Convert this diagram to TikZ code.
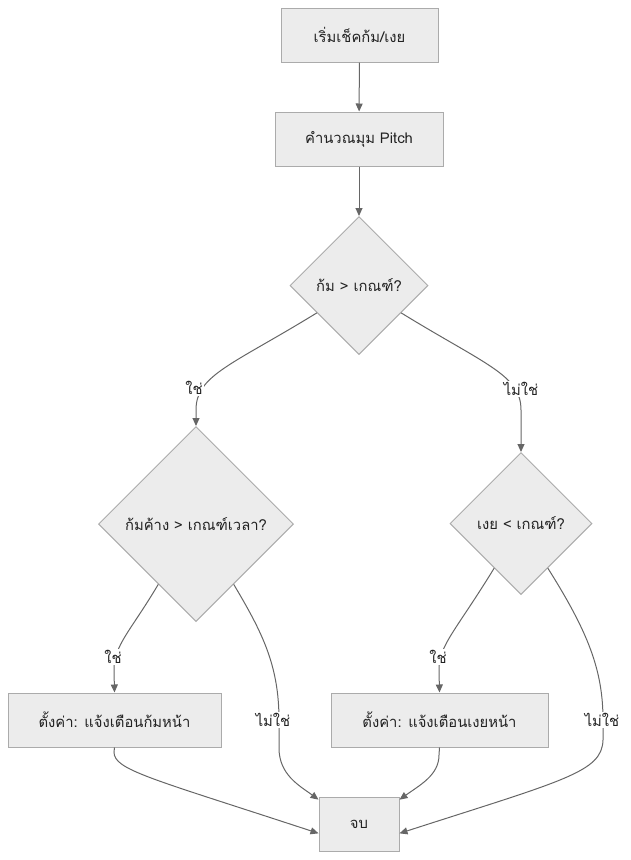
\documentclass[tikz,border=0pt]{standalone}
\usepackage{fontspec}
\setmainfont[Script=Thai]{Loma}
\usetikzlibrary{shapes.geometric,arrows.meta}
\definecolor{nodefill}{HTML}{ECECEC}
\definecolor{nodeline}{HTML}{ABABAB}
\definecolor{edgeline}{HTML}{666666}
\definecolor{txt}{HTML}{222222}
\tikzset{
  box/.style={draw=nodeline, fill=nodefill, line width=1pt, minimum height=54pt, inner sep=0pt, text=txt, font=\fontsize{14.8}{17}\selectfont},
  dia/.style={diamond, aspect=1, draw=nodeline, fill=nodefill, line width=1pt, inner sep=0pt, text=txt, font=\fontsize{14.8}{17}\selectfont},
  edge/.style={draw=edgeline, line width=1pt, -{Triangle[length=8pt,width=7pt]}},
  elabel/.style={fill=white, inner sep=1pt, text=txt, font=\fontsize{14.8}{17}\selectfont}
}
\begin{document}
\begin{tikzpicture}[x=1pt,y=-1pt]
\useasboundingbox (0,0) rectangle (630,860);
% nodes
\node[box, minimum width=157pt] (start) at (359.5,35) {เริ่มเช็คก้ม/เงย};
\node[box, minimum width=168pt] (pitch) at (359,139) {คำนวณมุม Pitch};
\node[dia, minimum width=138pt, minimum height=138pt] (d1) at (359,285.5) {ก้ม > เกณฑ์?};
\node[dia, minimum width=195pt, minimum height=195pt] (d2) at (196,524) {ก้มค้าง > เกณฑ์เวลา?};
\node[dia, minimum width=142pt, minimum height=142pt] (d3) at (521,523.5) {เงย < เกณฑ์?};
\node[box, minimum width=213pt] (lbox) at (114.5,720) {ตั้งค่า: แจ้งเตือนก้มหน้า};
\node[box, minimum width=217pt] (rbox) at (439.5,720) {ตั้งค่า: แจ้งเตือนเงยหน้า};
\node[box, minimum width=80pt] (end) at (359,824) {จบ};
% edges
\draw[edge] (start) -- (pitch);
\draw[edge] (pitch) -- (d1);
\draw[edge] (d1.213) .. controls (232,365) and (196,375) .. (196,410) -- (d2.north);
\draw[edge] (d1.327) .. controls (486,365) and (521,375) .. (521,410) -- (d3.north);
\draw[edge] (d2.238) .. controls (130,632) and (114,645) .. (114,670) -- (lbox.north);
\draw[edge] (d2.302) .. controls (262,632) and (279,665) .. (279,720) -- (279,748) .. controls (279,775) and (300,786) .. (end.149);
\draw[edge] (d3.239) .. controls (455,632) and (439,645) .. (439,670) -- (rbox.north);
\draw[edge] (d3.301) .. controls (588,632) and (603,670) .. (603,720) -- (603,740) .. controls (602,772) and (565,780) .. (end.347);
\draw[edge] (lbox.south) -- (114,752) .. controls (114,770) and (150,778) .. (end.193);
\draw[edge] (rbox.south) -- (439,755) .. controls (439,775) and (420,785) .. (end.31);
% labels
\node[elabel] (l1) at (194,388) {ใช่};
\node[elabel] (l2) at (521,389) {ไม่ใช่};
\node[elabel] (l3) at (113,657) {ใช่};
\node[elabel] (l4) at (273,720) {ไม่ใช่};
\node[elabel] (l5) at (438,657) {ใช่};
\node[elabel] (l6) at (602,720) {ไม่ใช่};
\end{tikzpicture}
\end{document}
